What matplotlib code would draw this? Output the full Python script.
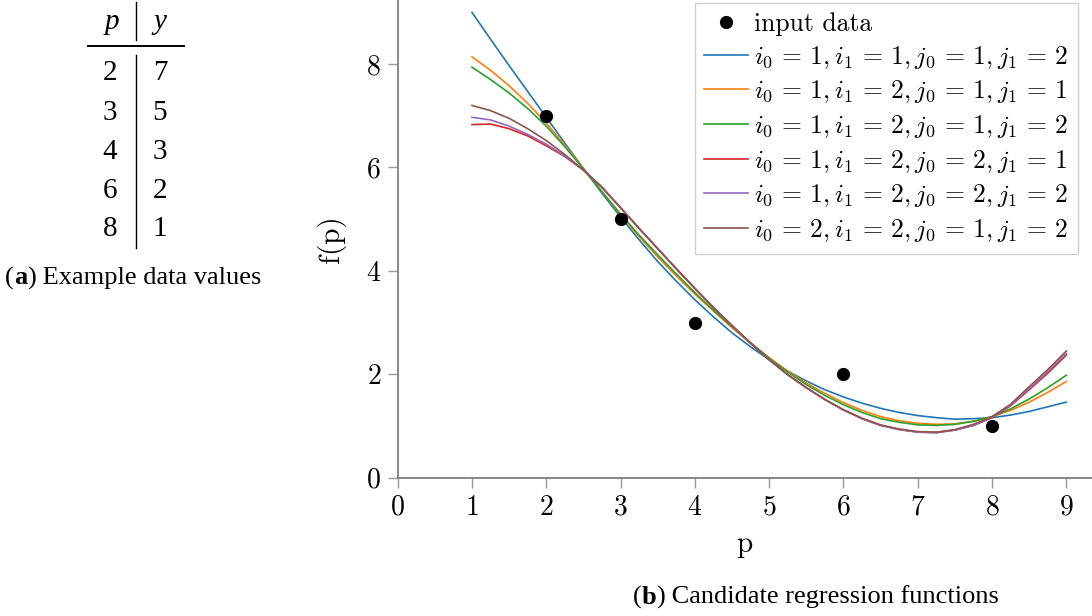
import matplotlib
matplotlib.use("Agg")
import matplotlib.pyplot as plt
from matplotlib.lines import Line2D

plt.rcParams['mathtext.fontset'] = 'cm'
plt.rcParams['axes.formatter.use_mathtext'] = True

# input data (also shown in the table)
p_data = [2, 3, 4, 6, 8]
y_data = [7, 5, 3, 2, 1]

# candidate regression functions
p_grid = [1, 1.25, 1.5, 1.75, 2, 2.25, 2.5, 2.75, 3, 3.25, 3.5, 3.75, 4, 4.25, 4.5, 4.75,
          5, 5.25, 5.5, 5.75, 6, 6.25, 6.5, 6.75, 7, 7.25, 7.5, 7.75, 8, 8.25, 8.5, 8.75, 9]
f_1112 = [9.00, 8.48, 7.97, 7.47, 6.97, 6.47, 5.98, 5.50, 5.04, 4.60, 4.18, 3.80, 3.44, 3.11, 2.80, 2.53,
          2.28, 2.06, 1.87, 1.70, 1.56, 1.44, 1.34, 1.26, 1.20, 1.16, 1.13, 1.14, 1.16, 1.21, 1.28, 1.37, 1.46]
f_1211 = [8.14, 7.88, 7.58, 7.24, 6.86, 6.43, 5.98, 5.53, 5.08, 4.66, 4.27, 3.90, 3.55, 3.22, 2.90, 2.60,
          2.32, 2.06, 1.83, 1.63, 1.45, 1.30, 1.18, 1.10, 1.05, 1.03, 1.04, 1.09, 1.18, 1.30, 1.46, 1.65, 1.86]
f_1212 = [7.94, 7.70, 7.44, 7.14, 6.80, 6.40, 5.97, 5.53, 5.10, 4.69, 4.31, 3.94, 3.58, 3.24, 2.92, 2.61,
          2.31, 2.04, 1.80, 1.59, 1.41, 1.26, 1.14, 1.07, 1.02, 1.01, 1.03, 1.09, 1.18, 1.33, 1.52, 1.74, 1.98]
f_1221 = [6.83, 6.84, 6.75, 6.61, 6.42, 6.21, 5.95, 5.62, 5.22, 4.82, 4.43, 4.04, 3.66, 3.29, 2.94, 2.60,
          2.28, 1.99, 1.74, 1.51, 1.31, 1.14, 1.01, 0.93, 0.88, 0.87, 0.92, 1.01, 1.16, 1.39, 1.70, 2.02, 2.37]
f_1222 = [6.97, 6.92, 6.80, 6.64, 6.45, 6.22, 5.95, 5.62, 5.22, 4.82, 4.43, 4.04, 3.66, 3.29, 2.94, 2.60,
          2.28, 1.99, 1.74, 1.51, 1.31, 1.14, 1.01, 0.93, 0.88, 0.87, 0.92, 1.01, 1.17, 1.40, 1.72, 2.05, 2.40]
f_2212 = [7.20, 7.10, 6.95, 6.75, 6.52, 6.25, 5.95, 5.61, 5.22, 4.82, 4.43, 4.04, 3.66, 3.29, 2.94, 2.60,
          2.28, 1.99, 1.74, 1.51, 1.31, 1.15, 1.02, 0.94, 0.89, 0.88, 0.93, 1.03, 1.18, 1.42, 1.76, 2.09, 2.45]

labels = [r'$i_0\,=\,1,i_1\,=\,1,j_0\,=\,1,j_1\,=\,2$',
          r'$i_0\,=\,1,i_1\,=\,2,j_0\,=\,1,j_1\,=\,1$',
          r'$i_0\,=\,1,i_1\,=\,2,j_0\,=\,1,j_1\,=\,2$',
          r'$i_0\,=\,1,i_1\,=\,2,j_0\,=\,2,j_1\,=\,1$',
          r'$i_0\,=\,1,i_1\,=\,2,j_0\,=\,2,j_1\,=\,2$',
          r'$i_0\,=\,2,i_1\,=\,2,j_0\,=\,1,j_1\,=\,2$']
series = [f_1112, f_1211, f_1212, f_1221, f_1222, f_2212]
colors = ['#1f77b4', '#ff7f0e', '#2ca02c', '#d62728', '#9467bd', '#8c564b']

W, H = 1092, 616
fig = plt.figure(figsize=(W / 100, H / 100), dpi=100)
ax = fig.add_axes([397.7 / W, 1 - 477.6 / H, 1 - 397.7 / W, 477.6 / H])

handles = []
for vals, lab, c in zip(series, labels, colors):
    ln, = ax.plot(p_grid, vals, color=c, lw=1.2, label=lab)
    handles.append(ln)
dots, = ax.plot(p_data, y_data, 'o', color='black', ms=8.5, label='input data', zorder=5)

ax.set_xlim(0, 9.345)
ax.set_ylim(0, 9.24)
ax.set_xticks(range(0, 10))
ax.set_yticks([0, 2, 4, 6, 8])
for s in ['top', 'right']:
    ax.spines[s].set_visible(False)
for s in ['left', 'bottom']:
    ax.spines[s].set_color('#7f7f7f')
    ax.spines[s].set_linewidth(1.3)
ax.tick_params(direction='out', length=7, width=1, color='#9a9a9a', labelsize=20, pad=5)
for t in ax.get_xticklabels() + ax.get_yticklabels():
    t.set_family('cmr10')

ax.set_xlabel('p', family='cmr10', fontsize=21, labelpad=8)
ax.set_ylabel('f(p)', family='cmr10', fontsize=21, labelpad=14)

leg = ax.legend([dots] + handles, ['input data'] + labels, loc='upper right',
                bbox_to_anchor=(1081 / W, 1.0), bbox_transform=fig.transFigure,
                prop={'family': 'cmr10', 'size': 18.5}, numpoints=1,
                handlelength=1.7, handletextpad=0.25, labelspacing=0.3,
                borderpad=0.38, borderaxespad=0.1, fancybox=False, framealpha=1,
                edgecolor='#d0d0d0')
leg.get_frame().set_linewidth(1.0)

# table (a)
serif = ['Liberation Serif', 'DejaVu Serif']
def fx(x):
    return x / W
def fy(y):
    return 1 - y / H

fig.add_artist(Line2D([fx(136), fx(136)], [fy(2), fy(40)], color='black', lw=1))
fig.add_artist(Line2D([fx(136), fx(136)], [fy(55), fy(248)], color='black', lw=1))
fig.add_artist(Line2D([fx(88), fx(184)], [fy(46), fy(46)], color='black', lw=1.4))
fig.text(fx(112), fy(22), 'p', family=serif, style='italic', fontsize=21, ha='center', va='center')
fig.text(fx(160), fy(22), 'y', family=serif, style='italic', fontsize=21, ha='center', va='center')
row_y = [73, 113, 152, 191, 229]
for ry, pv, yv in zip(row_y, p_data, y_data):
    fig.text(fx(110), fy(ry), str(pv), family=serif, fontsize=21, ha='center', va='center')
    fig.text(fx(160), fy(ry), str(yv), family=serif, fontsize=21, ha='center', va='center')

# captions: bold letter inside parentheses, pieces placed one after another
fig.canvas.draw()
renderer = fig.canvas.get_renderer()

def caption(x0, y0, letter, rest, size):
    x = x0
    for txt, wt in [('(', 'normal'), (letter, 'bold'), (')', 'normal'), (' ' + rest, 'normal')]:
        t = fig.text(fx(x), fy(y0), txt, family=serif, weight=wt, fontsize=size, ha='left', va='center')
        x += t.get_window_extent(renderer).width

caption(5, 278, 'a', 'Example data values', 19)
caption(633, 597, 'b', 'Candidate regression functions', 19)

fig.savefig('out.png', dpi=100)
